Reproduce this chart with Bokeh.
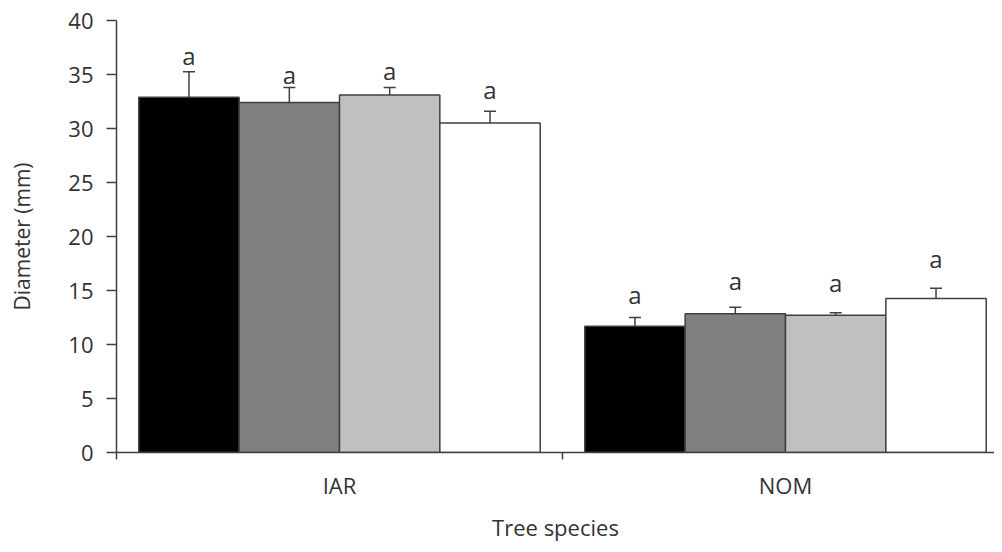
from bokeh.plotting import figure
from bokeh.models import Range1d, FixedTicker, ColumnDataSource
from bokeh.core.properties import value
from bokeh.embed import file_html
from bokeh.resources import INLINE

categories = ["IAR", "NOM"]
treatment_colors = ["#000000", "#808080", "#c0c0c0", "#ffffff"]
means = [
    [32.9, 32.4, 33.1, 30.5],   # IAR
    [11.7, 12.85, 12.7, 14.25], # NOM
]
errors = [
    [2.35, 1.4, 0.7, 1.1],
    [0.8, 0.6, 0.25, 0.95],
]
letters = [
    ["a", "a", "a", "a"],
    ["a", "a", "a", "a"],
]
letter_y = [
    [36.8, 35.0, 35.4, 33.6],
    [14.65, 15.9, 15.75, 18.0],
]
y_ticks = [0, 5, 10, 15, 20, 25, 30, 35, 40]

FONT = "Open Sans"
TXT = "#333333"
AX = "#404040"

p = figure(width=994, height=544, output_backend="svg", toolbar_location=None,
           x_range=Range1d(0, 878 / 446), y_range=Range1d(0, 40),
           min_border_left=116, min_border_right=0, min_border_top=20,
           min_border_bottom=86)
p.grid.visible = False
p.outline_line_color = None
p.background_fill_color = "white"
p.border_fill_color = "white"

n = len(treatment_colors)
bw = 0.9 / n
xs, tops, cols, e_tops, lx, ly, lt = [], [], [], [], [], [], []
for ci, cat in enumerate(categories):
    for ti in range(n):
        x = ci + 0.5 + (ti - (n - 1) / 2) * bw
        xs.append(x)
        tops.append(means[ci][ti])
        cols.append(treatment_colors[ti])
        e_tops.append(means[ci][ti] + errors[ci][ti])
        lx.append(x)
        ly.append(letter_y[ci][ti])
        lt.append(letters[ci][ti])

src = ColumnDataSource(dict(x=xs, top=tops, color=cols, etop=e_tops,
                            cx0=[x - 0.0135 for x in xs], cx1=[x + 0.0135 for x in xs]))
p.vbar(x="x", top="top", bottom=0, width=bw, fill_color="color",
       line_color=AX, line_width=1.5, source=src)
p.segment(x0="x", y0="top", x1="x", y1="etop", line_color=AX, line_width=1.5, source=src)
p.segment(x0="cx0", y0="etop", x1="cx1", y1="etop", line_color=AX, line_width=1.5, source=src)

p.text(x=lx, y=ly, text=lt, text_align="center", text_baseline="middle",
       text_font=value(FONT), text_font_size="24px", text_color=TXT)

# x axis
xa = p.xaxis[0]
xa.ticker = FixedTicker(ticks=[0.5, 1.5], minor_ticks=[0, 1, 2])
xa.major_label_overrides = {0.5: categories[0], 1.5: categories[1]}
xa.major_tick_line_color = None
xa.major_tick_out = 7
xa.major_tick_in = 0
xa.minor_tick_out = 7
xa.minor_tick_in = 0
xa.minor_tick_line_color = AX
xa.minor_tick_line_width = 1.5
xa.axis_line_color = AX
xa.axis_line_width = 1.5
xa.major_label_text_font = FONT
xa.major_label_text_font_size = "22px"
xa.major_label_text_color = TXT
xa.major_label_standoff = 10
xa.axis_label = "Tree species"
xa.axis_label_text_font = FONT
xa.axis_label_text_font_size = "22px"
xa.axis_label_text_font_style = "normal"
xa.axis_label_text_color = TXT
xa.axis_label_standoff = 9

ya = p.yaxis[0]
ya.ticker = FixedTicker(ticks=y_ticks)
ya.minor_tick_line_color = None
ya.major_tick_out = 10
ya.major_tick_in = 0
ya.major_tick_line_color = AX
ya.major_tick_line_width = 1.5
ya.axis_line_color = AX
ya.axis_line_width = 1.5
ya.major_label_text_font = FONT
ya.major_label_text_font_size = "22px"
ya.major_label_text_color = TXT
ya.major_label_standoff = 13
ya.axis_label = "Diameter (mm)"
ya.axis_label_text_font = FONT
ya.axis_label_text_font_size = "21px"
ya.axis_label_text_font_style = "normal"
ya.axis_label_text_color = TXT
ya.axis_label_standoff = 29

open("out.html", "w").write(file_html(p, INLINE))
